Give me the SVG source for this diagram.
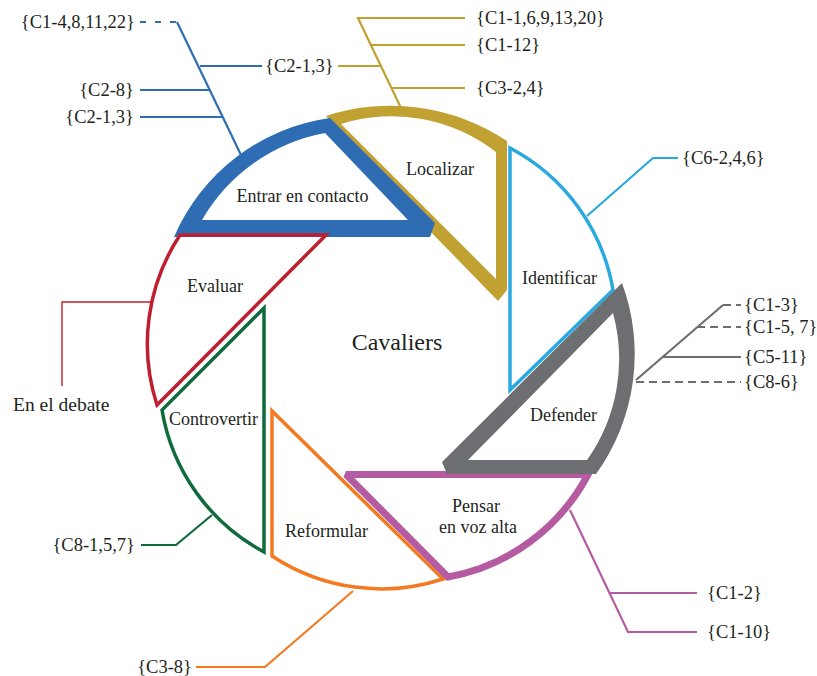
<svg xmlns="http://www.w3.org/2000/svg" width="817" height="676" viewBox="0 0 817 676">
  <style>
    text { font-family: "Liberation Serif", "Times New Roman", serif; fill: #231f20; }
    .lbl { font-size: 18.5px; }
    .seg { font-size: 18px; }
    .ldr { fill: none; stroke-width: 2.2; }
    .blue { stroke: #2e6db4; }
    .gold { stroke: #c2a133; }
    .cyan { stroke: #29a9e0; }
    .gray { stroke: #6d6e72; }
    .purple { stroke: #b45ba2; }
    .orange { stroke: #f37a21; }
    .green { stroke: #0f6b3b; }
    .red { stroke: #bf1e2e; }
    .dash-b { stroke-dasharray: 6 9; }
    .dash-g { stroke-dasharray: 8 5; }
    .thin { fill: none; stroke-width: 3.5; stroke-linejoin: miter; }
  </style>
  <rect width="817" height="676" fill="#ffffff"/>

  <!-- leader lines from each blade to its references -->
  <g id="connectors">
    <!-- Entrar en contacto -->
    <path class="ldr blue dash-b" d="M140,22 H177"/>
    <path class="ldr blue" d="M177,22 L241,155"/>
    <path class="ldr blue" d="M200,66 H262"/>
    <path class="ldr blue" d="M140,90 H209"/>
    <path class="ldr blue" d="M140,117 H222"/>
    <!-- Localizar -->
    <path class="ldr gold" d="M465,18 H358 L401,108"/>
    <path class="ldr gold" d="M371,45 H465"/>
    <path class="ldr gold" d="M338,66 H381"/>
    <path class="ldr gold" d="M391,88 H465"/>
    <!-- Identificar -->
    <path class="ldr cyan" d="M587,216 L653,158 H678"/>
    <!-- Defender -->
    <path class="ldr gray" d="M636,380 L723,305"/>
    <path class="ldr gray dash-g" d="M723,305 H741"/>
    <path class="ldr gray dash-g" d="M697,327 H741"/>
    <path class="ldr gray" d="M662,357 H741"/>
    <path class="ldr gray dash-g" d="M636,382 H741"/>
    <!-- Pensar en voz alta -->
    <path class="ldr purple" d="M570,510 L628,632 H697"/>
    <path class="ldr purple" d="M609,593 H697"/>
    <!-- Reformular -->
    <path class="ldr orange" d="M353,591 L265,667 H196"/>
    <!-- Controvertir -->
    <path class="ldr green" d="M212,515 L176,545 H141"/>
    <!-- Evaluar -->
    <path class="ldr red" style="stroke-width:1.4" d="M151,302 H62 V386"/>
  </g>

  <!-- aperture blades -->
  <g id="reformular">
    <path class="thin orange" d="M272,411 L272,556 A198,198 0 0 0 443,579 Z"/>
    <text class="seg" x="285" y="537">Reformular</text>
  </g>
  <g id="controvertir">
    <path class="thin green" d="M264,308 L264,552 A198,198 0 0 1 162,410 Z"/>
    <text class="seg" x="169" y="425">Controvertir</text>
  </g>
  <g id="pensar">
    <path fill="none" stroke="#b45ba2" stroke-width="7" stroke-linejoin="miter" stroke-miterlimit="2" d="M346,474.5 L588,474.5 A198,198 0 0 1 448,577 Z"/>
    <text class="seg" x="476" y="512" text-anchor="middle">Pensar</text>
    <text class="seg" x="478" y="533" text-anchor="middle">en voz alta</text>
  </g>
  <g id="identificar">
    <path class="thin cyan" d="M510,148 A198,198 0 0 1 613,290 L510,390 Z"/>
    <text class="seg" x="522" y="284">Identificar</text>
  </g>
  <g id="defender">
    <path fill="#6d6e72" fill-rule="evenodd" d="M622,283 A205,205 0 0 1 596,474 L447,474 L442,462 Z M613,313 A175,175 0 0 1 587,460 L468,460 Z"/>
    <text class="seg" x="530" y="421">Defender</text>
  </g>
  <g id="localizar">
    <path fill="#c2a133" fill-rule="evenodd" d="M326,116 A210,210 0 0 1 507,141 L507,290 L498,301 L428,229 Z M341,124 A170,170 0 0 1 496,152 L496,279 Z"/>
    <text class="seg" x="406" y="175">Localizar</text>
  </g>
  <g id="entrar">
    <path fill="#2e6db4" fill-rule="evenodd" d="M174,237 A200,200 0 0 1 330,118 L435,223 L430,237 Z M202,220 A180,180 0 0 1 325,133 L408,220 Z"/>
    <text class="seg" x="302.5" y="202" text-anchor="middle">Entrar en contacto</text>
  </g>
  <g id="evaluar">
    <path class="thin red" d="M157,405 A198,198 0 0 1 180,235 L326,235 Z"/>
    <text class="seg" x="187" y="292">Evaluar</text>
  </g>
  <g id="centro">
    <text x="397" y="350" text-anchor="middle" style="font-size:24px">Cavaliers</text>
  </g>

  <!-- reference labels -->
  <g id="refs-entrar">
    <text class="lbl" x="135" y="28" text-anchor="end">{C1-4,8,11,22}</text>
    <text class="lbl" x="265" y="72">{C2-1,3}</text>
    <text class="lbl" x="134" y="96" text-anchor="end">{C2-8}</text>
    <text class="lbl" x="134" y="123" text-anchor="end">{C2-1,3}</text>
  </g>
  <g id="refs-localizar">
    <text class="lbl" x="476" y="24">{C1-1,6,9,13,20}</text>
    <text class="lbl" x="476" y="51">{C1-12}</text>
    <text class="lbl" x="476" y="94">{C3-2,4}</text>
  </g>
  <g id="refs-identificar">
    <text class="lbl" x="682" y="164">{C6-2,4,6}</text>
  </g>
  <g id="refs-defender">
    <text class="lbl" x="744" y="311">{C1-3}</text>
    <text class="lbl" x="744" y="333">{C1-5, 7}</text>
    <text class="lbl" x="744" y="363">{C5-11}</text>
    <text class="lbl" x="744" y="388">{C8-6}</text>
  </g>
  <g id="refs-pensar">
    <text class="lbl" x="707" y="599">{C1-2}</text>
    <text class="lbl" x="707" y="638">{C1-10}</text>
  </g>
  <g id="refs-reformular">
    <text class="lbl" x="192" y="673" text-anchor="end">{C3-8}</text>
  </g>
  <g id="refs-controvertir">
    <text class="lbl" x="135" y="551" text-anchor="end">{C8-1,5,7}</text>
  </g>
  <g id="refs-evaluar">
    <text x="13" y="411" style="font-size:19.5px">En el debate</text>
  </g>
</svg>
